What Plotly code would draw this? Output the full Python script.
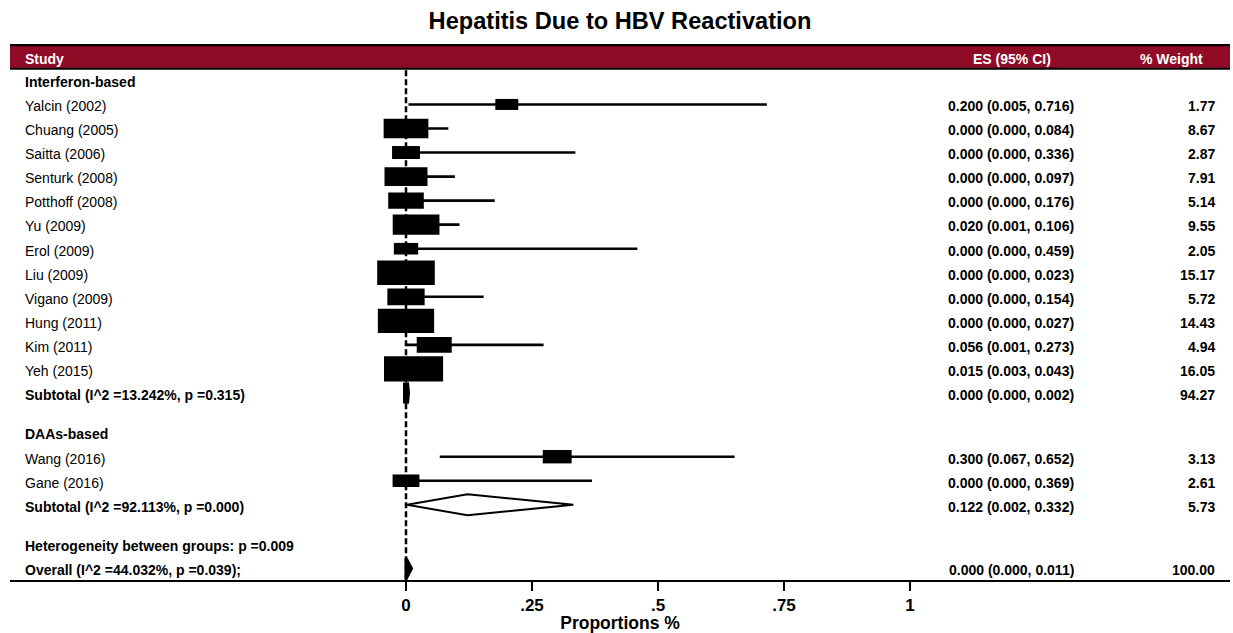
import math
import plotly.graph_objects as go

# ---------------- data ----------------
title_text = "Hepatitis Due to HBV Reactivation"
column_headers = ["Study", "ES (95% CI)", "% Weight"]
group_names = ["Interferon-based", "DAAs-based"]

study_names = [
    "Yalcin (2002)", "Chuang (2005)", "Saitta (2006)", "Senturk (2008)",
    "Potthoff (2008)", "Yu (2009)", "Erol (2009)", "Liu (2009)",
    "Vigano (2009)", "Hung (2011)", "Kim (2011)", "Yeh (2015)",
    "Wang (2016)", "Gane (2016)",
]
study_group = [0, 0, 0, 0, 0, 0, 0, 0, 0, 0, 0, 0, 1, 1]
study_es = [0.200, 0.000, 0.000, 0.000, 0.000, 0.020, 0.000, 0.000,
            0.000, 0.000, 0.056, 0.015, 0.300, 0.000]
study_lo = [0.005, 0.000, 0.000, 0.000, 0.000, 0.001, 0.000, 0.000,
            0.000, 0.000, 0.001, 0.003, 0.067, 0.000]
study_hi = [0.716, 0.084, 0.336, 0.097, 0.176, 0.106, 0.459, 0.023,
            0.154, 0.027, 0.273, 0.043, 0.652, 0.369]
study_weight = [1.77, 8.67, 2.87, 7.91, 5.14, 9.55, 2.05, 15.17,
                5.72, 14.43, 4.94, 16.05, 3.13, 2.61]

subtotal_labels = ["Subtotal (I^2 =13.242%, p =0.315)",
                   "Subtotal (I^2 =92.113%, p =0.000)"]
subtotal_es = [0.000, 0.122]
subtotal_lo = [0.000, 0.002]
subtotal_hi = [0.002, 0.332]
subtotal_weight = [94.27, 5.73]

heterogeneity_label = "Heterogeneity between groups: p =0.009"
overall_label = "Overall (I^2 =44.032%, p =0.039);"
overall_es = [0.000]
overall_lo = [0.000]
overall_hi = [0.011]
overall_weight = [100.00]

tick_values = [0, 0.25, 0.5, 0.75, 1]
tick_labels = ["0", ".25", ".5", ".75", "1"]
x_title = "Proportions %"

# ---------------- geometry / style ----------------
W, H = 1233, 633
FONT = "Liberation Sans, Arial, Helvetica, sans-serif"
HEADER_RED = "#900b25"
PX0, PXU = 406.0, 504.0          # pixel of x=0 and pixels per unit
ROW0, ROWH = 80.6, 24.18         # pixel of row 0 and row height
PLOT_L, PLOT_R, PLOT_T, PLOT_B = 10, 1230, 44, 583
TEXT_SHIFT = 1.8 / ROWH          # visual centring of text on its row


def xd(p):
    return (p - PX0) / PXU


def yr(p):
    return (p - ROW0) / ROWH


GAP = 1.65
rows = []
y = 0.0
for g, gname in enumerate(group_names):
    rows.append(dict(kind="group", label=gname, y=y))
    y += 1
    for i, name in enumerate(study_names):
        if study_group[i] != g:
            continue
        rows.append(dict(kind="study", label=name, y=y, es=study_es[i],
                         lo=study_lo[i], hi=study_hi[i], w=study_weight[i]))
        y += 1
    rows.append(dict(kind="subtotal", label=subtotal_labels[g], y=y,
                     es=subtotal_es[g], lo=subtotal_lo[g], hi=subtotal_hi[g],
                     w=subtotal_weight[g]))
    y += GAP
rows.append(dict(kind="het", label=heterogeneity_label, y=y))
y += 1
rows.append(dict(kind="overall", label=overall_label, y=y, es=overall_es[0],
                 lo=overall_lo[0], hi=overall_hi[0], w=overall_weight[0]))

shapes = []
annotations = []

# header bar
shapes.append(dict(type="rect", xref="paper", yref="y", x0=0, x1=1,
                   y0=yr(45.5), y1=yr(68.5), fillcolor=HEADER_RED,
                   line=dict(width=0), layer="below"))
shapes.append(dict(type="line", xref="paper", yref="y", x0=0, x1=1,
                   y0=yr(44.8), y1=yr(44.8), line=dict(color="black", width=2.8)))
shapes.append(dict(type="line", xref="paper", yref="y", x0=0, x1=1,
                   y0=yr(69), y1=yr(69), line=dict(color="black", width=2)))

# dashed overall line
shapes.append(dict(type="line", xref="x", yref="y", x0=overall_es[0], x1=overall_es[0],
                   y0=yr(70.5), y1=yr(PLOT_B),
                   line=dict(color="black", width=2.5, dash="6px,3px")))

for r in rows:
    if r["kind"] == "study":
        shapes.append(dict(type="line", xref="x", yref="y", x0=r["lo"], x1=r["hi"],
                           y0=r["y"], y1=r["y"], line=dict(color="black", width=2.6)))
        s = math.sqrt(r["w"])
        bw = 13.5 * s + 5
        bh = 5.3 * s + 4
        shapes.append(dict(type="rect", xref="x", yref="y",
                           xsizemode="pixel", xanchor=r["es"], x0=-bw / 2, x1=bw / 2,
                           ysizemode="pixel", yanchor=r["y"], y0=-bh / 2, y1=bh / 2,
                           fillcolor="black", line=dict(width=0)))
    elif r["kind"] in ("subtotal", "overall"):
        hh = 10.5 / ROWH
        narrow = (r["hi"] - r["lo"]) * PXU
        if narrow < 3:
            fill, lw = "black", 6
        elif narrow < 12:
            fill, lw = "black", 3
        else:
            fill, lw = "white", 2
        path = (f"M {r['lo']},{r['y']} L {r['es']},{r['y'] - hh} "
                f"L {r['hi']},{r['y']} L {r['es']},{r['y'] + hh} Z")
        shapes.append(dict(type="path", xref="x", yref="y", path=path,
                           fillcolor=fill, line=dict(color="black", width=lw)))

# texts
TXT = 14
hdr_y = yr(57) + TEXT_SHIFT
annotations.append(dict(x=xd(23), y=hdr_y, xref="x", yref="y", text=column_headers[0],
                        xanchor="left", yanchor="middle", showarrow=False,
                        font=dict(family=FONT, size=TXT, color="white", weight="bold")))
annotations.append(dict(x=xd(1012), y=hdr_y, xref="x", yref="y", text=column_headers[1],
                        xanchor="center", yanchor="middle", showarrow=False,
                        font=dict(family=FONT, size=TXT, color="white", weight="bold")))
annotations.append(dict(x=xd(1171), y=hdr_y, xref="x", yref="y", text=column_headers[2],
                        xanchor="center", yanchor="middle", showarrow=False,
                        font=dict(family=FONT, size=TXT, color="white", weight="bold")))

for r in rows:
    bold = r["kind"] != "study"
    ty = r["y"] + TEXT_SHIFT
    annotations.append(dict(x=xd(23), y=ty, xref="x", yref="y", text=r["label"],
                            xanchor="left", yanchor="middle", showarrow=False,
                            font=dict(family=FONT, size=TXT, color="black",
                                      weight="bold" if bold else "normal")))
    if "es" in r:
        es_txt = f"{r['es']:.3f} ({r['lo']:.3f}, {r['hi']:.3f})"
        annotations.append(dict(x=xd(1076), y=ty, xref="x", yref="y", text=es_txt,
                                xanchor="right", yanchor="middle", showarrow=False,
                                font=dict(family=FONT, size=TXT, color="black", weight="bold")))
        annotations.append(dict(x=xd(1217), y=ty, xref="x", yref="y", text=f"{r['w']:.2f}",
                                xanchor="right", yanchor="middle", showarrow=False,
                                font=dict(family=FONT, size=TXT, color="black", weight="bold")))

fig = go.Figure()
fig.add_trace(go.Scatter(x=[overall_es[0]], y=[rows[-1]["y"]], mode="markers",
                         marker=dict(size=1, color="rgba(0,0,0,0)"), hoverinfo="skip",
                         showlegend=False))

fig.update_layout(
    width=W, height=H,
    margin=dict(l=PLOT_L, r=W - PLOT_R, t=PLOT_T, b=H - PLOT_B, pad=0),
    paper_bgcolor="white", plot_bgcolor="white",
    showlegend=False,
    title=dict(text=title_text, x=0.5, xref="paper", xanchor="center",
               y=1 - 21 / H, yref="container", yanchor="middle",
               font=dict(family=FONT, size=23.6, color="black", weight="bold")),
    xaxis=dict(range=[xd(PLOT_L), xd(PLOT_R)], showgrid=False, zeroline=False,
               showline=True, linecolor="black", linewidth=2,
               ticks="outside", ticklen=9, tickwidth=2, tickcolor="black",
               tickvals=tick_values, ticktext=tick_labels,
               tickfont=dict(family=FONT, size=17, color="black", weight="bold"),
               title=dict(text=x_title, standoff=2,
                          font=dict(family=FONT, size=17.5, color="black", weight="bold")),
               fixedrange=True),
    yaxis=dict(range=[yr(PLOT_B), yr(PLOT_T)], visible=False, showgrid=False,
               zeroline=False, fixedrange=True),
    shapes=shapes,
    annotations=annotations,
)

fig.write_html("out.html", config={"displayModeBar": False},
               post_script="document.body.style.margin='0';document.body.style.overflow='hidden';")
